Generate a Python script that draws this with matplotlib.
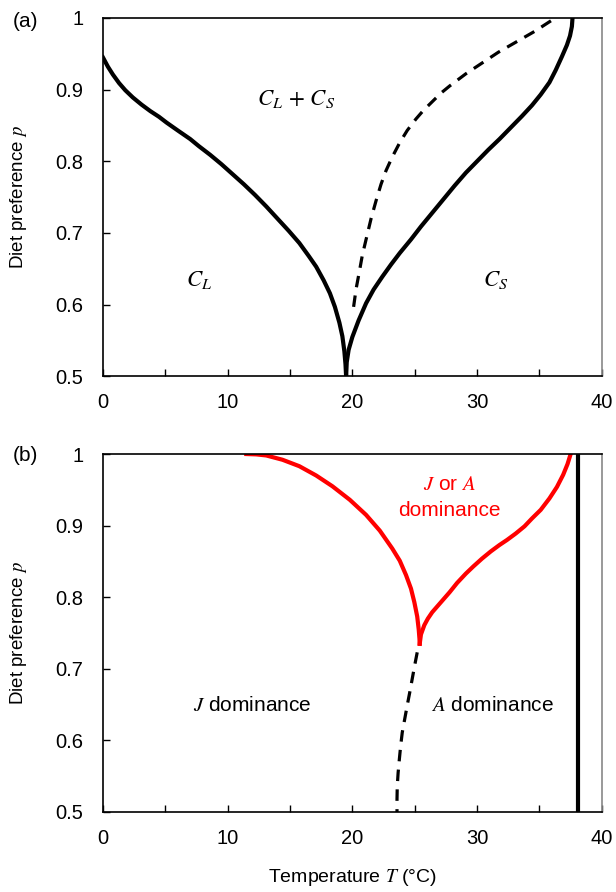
import numpy as np
import matplotlib
matplotlib.use("Agg")
import matplotlib.pyplot as plt

plt.rcParams['font.family'] = ['Liberation Sans', 'DejaVu Sans']
plt.rcParams['mathtext.fontset'] = 'stix'

# Panel (a): boundaries between C_L, C_L + C_S and C_S
a_left_T = [0, 0.4, 0.8, 1.3, 1.8, 2.4, 3.1, 3.8, 4.5, 5.1, 6.0, 7.0, 7.7, 8.6, 9.5,
            10.4, 11.3, 12.2, 13.1, 14.0, 14.9, 15.75, 16.5, 17.1, 17.7, 18.2, 18.6,
            18.96, 19.2, 19.36, 19.45, 19.5]
a_left_p = [0.945, 0.932, 0.921, 0.909, 0.899, 0.889, 0.879, 0.870, 0.862, 0.854, 0.843,
            0.831, 0.821, 0.809, 0.796, 0.782, 0.768, 0.753, 0.737, 0.720, 0.703, 0.686,
            0.668, 0.653, 0.634, 0.616, 0.597, 0.575, 0.556, 0.535, 0.517, 0.5]

a_right_T = [19.5, 19.55, 19.7, 20.0, 20.5, 21.1, 21.7, 22.4, 23.1, 23.8, 24.7, 25.5,
             26.4, 27.3, 28.2, 29.1, 30.0, 30.9, 31.8, 32.7, 33.6, 34.4, 35.1, 35.8,
             36.3, 36.8, 37.2, 37.45, 37.6, 37.65]
a_right_p = [0.5, 0.52, 0.537, 0.555, 0.578, 0.602, 0.621, 0.639, 0.656, 0.672, 0.691,
             0.709, 0.728, 0.747, 0.766, 0.784, 0.800, 0.816, 0.831, 0.847, 0.863, 0.878,
             0.893, 0.910, 0.927, 0.946, 0.962, 0.975, 0.988, 1.0]

a_dash_T = [20.1, 20.3, 20.56, 20.8, 21.1, 21.5, 21.9, 22.3, 22.7, 23.2, 23.8, 24.4,
            25.1, 25.7, 26.4, 27.1, 27.8, 29.1, 30.4, 31.7, 33.1, 34.6, 36.2]
a_dash_p = [0.597, 0.622, 0.646, 0.669, 0.691, 0.720, 0.745, 0.768, 0.787, 0.806, 0.826,
            0.843, 0.859, 0.871, 0.883, 0.895, 0.905, 0.922, 0.937, 0.952, 0.966, 0.981,
            0.999]

# Panel (b): J / A dominance
b_red_left_T = [11.5, 12.3, 13.1, 14.4, 15.75, 17.1, 18.4, 19.8, 21.1, 22.2, 23.2, 23.8,
                24.3, 24.7, 24.97, 25.2, 25.32, 25.38, 25.4]
b_red_left_p = [1.0, 0.9995, 0.998, 0.992, 0.983, 0.970, 0.955, 0.936, 0.915, 0.893,
                0.868, 0.851, 0.831, 0.812, 0.793, 0.773, 0.755, 0.742, 0.735]

b_red_right_T = [25.4, 25.5, 25.77, 26.05, 26.4, 27.1, 27.8, 28.4, 29.1, 29.7, 30.4, 31.1,
                 31.8, 32.4, 33.1, 33.8, 34.4, 35.1, 35.8, 36.4, 36.9, 37.25, 37.5]
b_red_right_p = [0.735, 0.748, 0.761, 0.770, 0.779, 0.793, 0.807, 0.820, 0.833, 0.843,
                 0.854, 0.864, 0.873, 0.880, 0.889, 0.899, 0.910, 0.922, 0.938, 0.954,
                 0.971, 0.986, 1.0]

b_dash_T = [25.2, 25.0, 24.8, 24.6, 24.4, 24.2, 24.0, 23.87, 23.77, 23.67, 23.6, 23.58, 23.58]
b_dash_p = [0.723, 0.705, 0.686, 0.667, 0.649, 0.630, 0.611, 0.592, 0.574, 0.555, 0.536,
            0.518, 0.5]

b_vert_T = [38.1, 38.1]
b_vert_p = [0.5, 1.0]

yticks = [0.5, 0.6, 0.7, 0.8, 0.9, 1.0]
ytick_labels = ["0.5", "0.6", "0.7", "0.8", "0.9", "1"]
xticks = [0, 10, 20, 30, 40]


def style_axes(ax):
    ax.set_xlim(0, 40)
    ax.set_ylim(0.5, 1.0)
    ax.set_xticks(xticks)
    ax.set_xticks(np.arange(0, 41, 5), minor=True)
    ax.set_yticks(yticks)
    ax.set_yticklabels(ytick_labels)
    ax.tick_params(which='both', direction='in', length=5, width=1,
                   labelsize=14.5, top=False, right=False)
    ax.tick_params(axis='y', pad=14)
    ax.tick_params(axis='x', pad=12)
    ax.spines['right'].set_color('#888888')
    ax.spines['right'].set_linewidth(1.2)
    for s in ['left', 'bottom', 'top']:
        ax.spines[s].set_linewidth(1.2)
    ax.set_ylabel("Diet preference $p$", fontsize=13.5)
    ax.yaxis.set_label_coords(-0.148, 0.5)


fig = plt.figure(figsize=(6.16, 8.92), dpi=100)
ax1 = fig.add_axes([0.167, 0.578, 0.81, 0.402])
ax2 = fig.add_axes([0.167, 0.0897, 0.81, 0.4013])

lw = 3.0
dash_lw = 2.3
ax1.plot(a_left_T, a_left_p, color='black', lw=lw)
ax1.plot(a_right_T, a_right_p, color='black', lw=lw)
ax1.plot(a_dash_T, a_dash_p, color='black', lw=dash_lw, dashes=(3.6, 2.6))
ax1.text(15.5, 0.887, r"$C_L\,+\,C_S$", fontsize=16.5, ha='center', va='center')
ax1.text(7.7, 0.635, r"$C_L$", fontsize=16.5, ha='center', va='center')
ax1.text(31.5, 0.635, r"$C_S$", fontsize=16.5, ha='center', va='center')
style_axes(ax1)
fig.text(0.02, 0.976, "(a)", fontsize=15, ha='left', va='center')

ax2.plot(b_red_left_T, b_red_left_p, color='#ff0000', lw=lw)
ax2.plot(b_red_right_T, b_red_right_p, color='#ff0000', lw=lw)
ax2.plot(b_dash_T, b_dash_p, color='black', lw=dash_lw, dashes=(3.6, 2.6))
ax2.plot(b_vert_T, b_vert_p, color='black', lw=lw)
ax2.text(27.8, 0.957, r"$J$ or $A$", fontsize=15, color='#ff0000', ha='center', va='center')
ax2.text(27.8, 0.921, "dominance", fontsize=15, color='#ff0000', ha='center', va='center')
ax2.text(12.0, 0.649, r"$J$ dominance", fontsize=15, ha='center', va='center')
ax2.text(31.2, 0.649, r"$A$ dominance", fontsize=15, ha='center', va='center')
style_axes(ax2)
ax2.set_xlabel("Temperature $T$ (°C)", fontsize=14, labelpad=14)
fig.text(0.02, 0.489, "(b)", fontsize=15, ha='left', va='center')

fig.savefig("out.png", dpi=100)
